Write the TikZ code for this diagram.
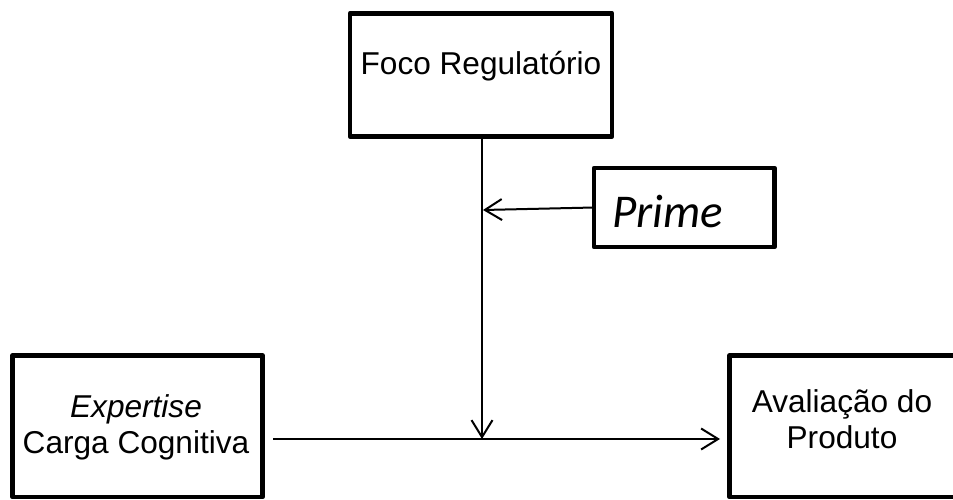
\documentclass[tikz,border=0pt]{standalone}
\usepackage{fontspec}
\setmainfont{Liberation Sans}
\newfontfamily\calibri{Carlito}
\usetikzlibrary{arrows.meta}
\begin{document}
\begin{tikzpicture}[x=1pt,y=-1pt,
  box/.style={draw, line width=4.6pt, line join=round, rectangle, inner sep=0pt, outer sep=0pt},
  conn/.style={line width=2pt, -{Straight Barb[length=17pt,width=21pt,line width=2pt]}},
  lbl/.style={anchor=base, inner sep=0pt, font=\fontsize{31.6}{38}\selectfont}]
\useasboundingbox (0,0) rectangle (953,500);
\clip (0,0) rectangle (953,500);
% boxes
\node[box, minimum width=262pt, minimum height=123pt] (foco) at (481,74.75) {};
\node[box, minimum width=180.5pt, minimum height=79pt] (prime) at (684.25,207.5) {};
\node[box, minimum width=250pt, minimum height=141.5pt] (exp) at (137.5,426.25) {};
\node[box, minimum width=250pt, minimum height=141.5pt] (aval) at (854.5,426.25) {};
% texts
\node[lbl] (tfoco) at (481,75) {Foco Regulatório};
\node[lbl, font=\calibri\itshape\fontsize{47}{56}\selectfont] (tprime) at (667.5,227) {Prime};
\node[lbl] (texp) at (136,417) {\itshape Expertise};
\node[lbl] (tcarga) at (136,453) {Carga Cognitiva};
\node[lbl] (taval) at (842,412) {Avaliação do};
\node[lbl] (tprod) at (842,448) {Produto};
% connectors
\coordinate (meet) at (482,439);
\coordinate (pin) at (483,210);
\draw[conn] (foco.south -| meet) -- (meet);
\draw[conn, shorten <=10.5pt, shorten >=9.5pt] (exp.east |- meet) -- (aval.west |- meet);
\draw[conn] (prime.west) -- (pin);
\end{tikzpicture}
\end{document}
